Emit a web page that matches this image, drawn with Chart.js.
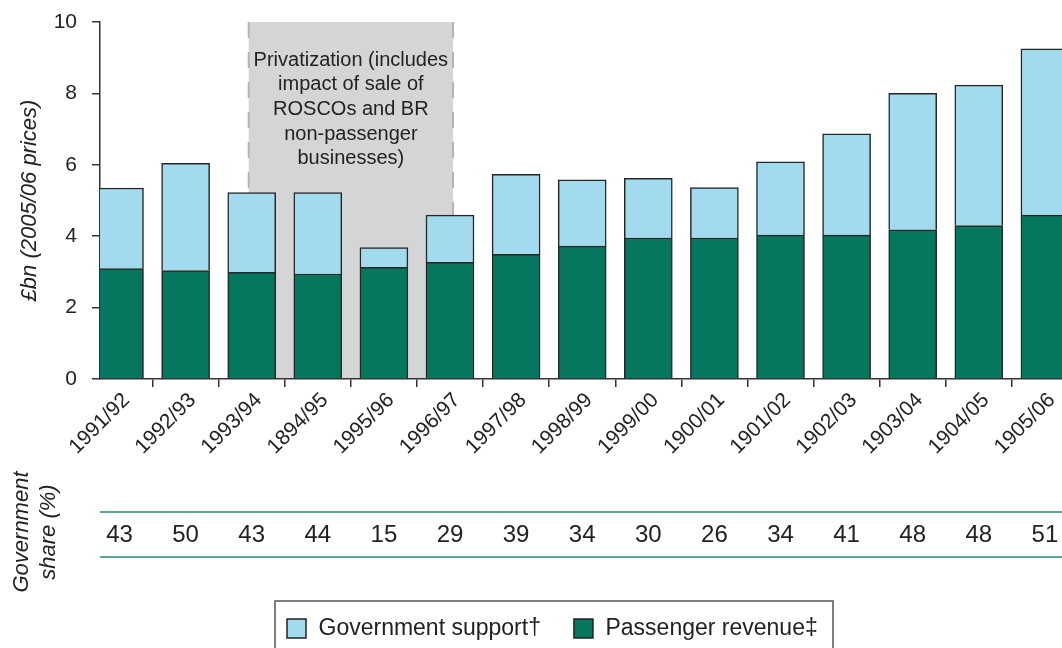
<!DOCTYPE html>
<html>
<head>
<meta charset="utf-8">
<script src="https://cdn.jsdelivr.net/npm/chart.js@4.4.0/dist/chart.umd.min.js"></script>
<style>
  html, body { margin: 0; padding: 0; background: #fff; overflow: hidden; }
  #wrap { position: relative; width: 1062px; height: 648px; }
</style>
</head>
<body>
<div id="wrap"><canvas id="chart"></canvas></div>
<script>
// Financial years (labels as printed in the source, typos included)
const categories = ['1991/92', '1992/93', '1993/94', '1894/95', '1995/96', '1996/97', '1997/98',
    '1998/99', '1999/00', '1900/01', '1901/02', '1902/03', '1903/04', '1904/05', '1905/06'];

// £bn, 2005/06 prices
const passengerRevenue = [3.09, 3.04, 2.99, 2.94, 3.13, 3.27, 3.49, 3.72, 3.95, 3.95, 4.03, 4.03, 4.18, 4.30, 4.59];
const governmentSupport = [2.26, 3.00, 2.23, 2.28, 0.55, 1.32, 2.24, 1.86, 1.67, 1.41, 2.05, 2.84, 3.82, 3.93, 4.66];

// Government share (%) row under the chart
const governmentShare = [43, 50, 43, 44, 15, 29, 39, 34, 30, 26, 34, 41, 48, 48, 51];

const yTicks = [0, 2, 4, 6, 8, 10];

// Shaded privatization period: from 1993/94 to 1996/97
const privatizationSpan = [2, 5];
const privatizationNote = ['Privatization (includes', 'impact of sale of', 'ROSCOs and BR',
    'non-passenger', 'businesses)'];

const FONT = "'Liberation Sans', Arial, Helvetica, sans-serif";
const INK = '#222';
Chart.defaults.font.family = FONT;
Chart.defaults.color = INK;

// gray band + note behind the bars
const privatizationBand = {
    id: 'privatizationBand',
    beforeDatasetsDraw(chart) {
        const { ctx, scales: { x, y } } = chart;
        const left = x.getPixelForValue(privatizationSpan[0]) - 3;
        const right = x.getPixelForValue(privatizationSpan[1]) + 3;
        const top = y.getPixelForValue(10);
        const bottom = y.getPixelForValue(0) - 1;
        ctx.save();
        ctx.fillStyle = '#d4d5d7';
        ctx.fillRect(left, top, right - left, bottom - top);
        ctx.strokeStyle = '#b4b4b6';
        ctx.lineWidth = 2;
        ctx.setLineDash([16, 14]);
        [left, right].forEach(px => {
            ctx.beginPath();
            ctx.moveTo(px, top);
            ctx.lineTo(px, bottom);
            ctx.stroke();
        });
        ctx.setLineDash([]);
        ctx.fillStyle = INK;
        ctx.font = '20px ' + FONT;
        ctx.textAlign = 'center';
        ctx.textBaseline = 'middle';
        const cx = (left + right) / 2;
        privatizationNote.forEach((line, i) => {
            ctx.fillText(line, cx, top + 38 + i * 24.7);
        });
        ctx.restore();
    }
};

// government share row and the boxed legend
const shareRowAndLegend = {
    id: 'shareRowAndLegend',
    afterDraw(chart) {
        const { ctx, chartArea, scales: { x } } = chart;
        ctx.save();

        // teal rules
        ctx.strokeStyle = '#23896f';
        ctx.lineWidth = 1.5;
        [512, 557].forEach(py => {
            ctx.beginPath();
            ctx.moveTo(chartArea.left, py);
            ctx.lineTo(chart.width, py);
            ctx.stroke();
        });

        ctx.fillStyle = INK;
        ctx.font = '24px ' + FONT;
        ctx.textAlign = 'center';
        ctx.textBaseline = 'middle';
        governmentShare.forEach((v, i) => {
            ctx.fillText(String(v), x.getPixelForValue(i), 535);
        });

        // rotated row title
        ctx.font = 'italic 22px ' + FONT;
        [['Government', 22], ['share (%)', 49]].forEach(([txt, px]) => {
            ctx.save();
            ctx.translate(px, 532);
            ctx.rotate(-Math.PI / 2);
            ctx.fillText(txt, 0, 0);
            ctx.restore();
        });

        // legend box
        ctx.strokeStyle = '#555';
        ctx.lineWidth = 1.5;
        ctx.strokeRect(275, 601, 558, 80);

        ctx.font = '23px ' + FONT;
        ctx.textAlign = 'left';
        let lx = 287;
        const order = [1, 0];
        order.forEach(di => {
            const ds = chart.data.datasets[di];
            ctx.fillStyle = ds.backgroundColor;
            ctx.fillRect(lx, 619, 19, 19);
            ctx.strokeStyle = '#222';
            ctx.lineWidth = 1.5;
            ctx.strokeRect(lx, 619, 19, 19);
            ctx.fillStyle = INK;
            const tx = lx + 19 + 12.5;
            ctx.fillText(ds.label, tx, 629);
            lx = tx + ctx.measureText(ds.label).width + 33;
        });

        ctx.restore();
    }
};

// x axis: 66.1px per year, first bar centred at 119.5px, axis line at 100px
const xMin = -19.5 / 66.1;
const xMax = xMin + 962 / 66.1;

new Chart(document.getElementById('chart'), {
    type: 'bar',
    data: {
        labels: categories.map((_, i) => i),
        datasets: [
            {
                label: 'Passenger revenue‡',
                data: passengerRevenue,
                backgroundColor: '#06775f',
                borderColor: '#262626',
                borderWidth: 1.5,
                barThickness: 48
            },
            {
                label: 'Government support†',
                data: governmentSupport,
                backgroundColor: '#a2dbed',
                borderColor: '#262626',
                borderWidth: 1.5,
                barThickness: 48
            }
        ]
    },
    options: {
        responsive: true,
        maintainAspectRatio: false,
        animation: false,
        layout: { padding: { top: 22, right: 0, bottom: 0, left: 0 } },
        plugins: {
            legend: { display: false },
            tooltip: { enabled: false }
        },
        scales: {
            x: {
                type: 'linear',
                stacked: true,
                offset: false,
                min: xMin,
                max: xMax,
                afterBuildTicks: s => { s.ticks = categories.map((_, i) => ({ value: i })); },
                ticks: {
                    autoSkip: false,
                    minRotation: 45,
                    maxRotation: 45,
                    padding: 1,
                    labelOffset: 7,
                    font: { size: 21 },
                    color: INK,
                    callback: (v, i) => categories[i]
                },
                grid: {
                    offset: true,
                    drawOnChartArea: false,
                    drawTicks: true,
                    tickLength: 8,
                    color: '#333',
                    lineWidth: 1.5
                },
                border: { color: '#333', width: 1.5 },
                afterFit: s => { s.height = 269; s.paddingLeft = 0; s.paddingRight = 0; }
            },
            y: {
                stacked: true,
                min: 0,
                max: 10,
                afterBuildTicks: s => { s.ticks = yTicks.map(v => ({ value: v })); },
                ticks: { padding: 15, font: { size: 21 }, color: INK },
                grid: {
                    drawOnChartArea: false,
                    drawTicks: true,
                    tickLength: 8,
                    color: '#333',
                    lineWidth: 1.5
                },
                border: { color: '#333', width: 1.5 },
                title: {
                    display: true,
                    text: '£bn (2005/06 prices)',
                    font: { size: 22, style: 'italic' },
                    color: INK,
                    padding: { top: 17, bottom: 0 }
                },
                afterFit: s => { s.width = 100; s.paddingTop = 0; s.paddingBottom = 0; }
            }
        }
    },
    plugins: [privatizationBand, shareRowAndLegend]
});
</script>
</body>
</html>
